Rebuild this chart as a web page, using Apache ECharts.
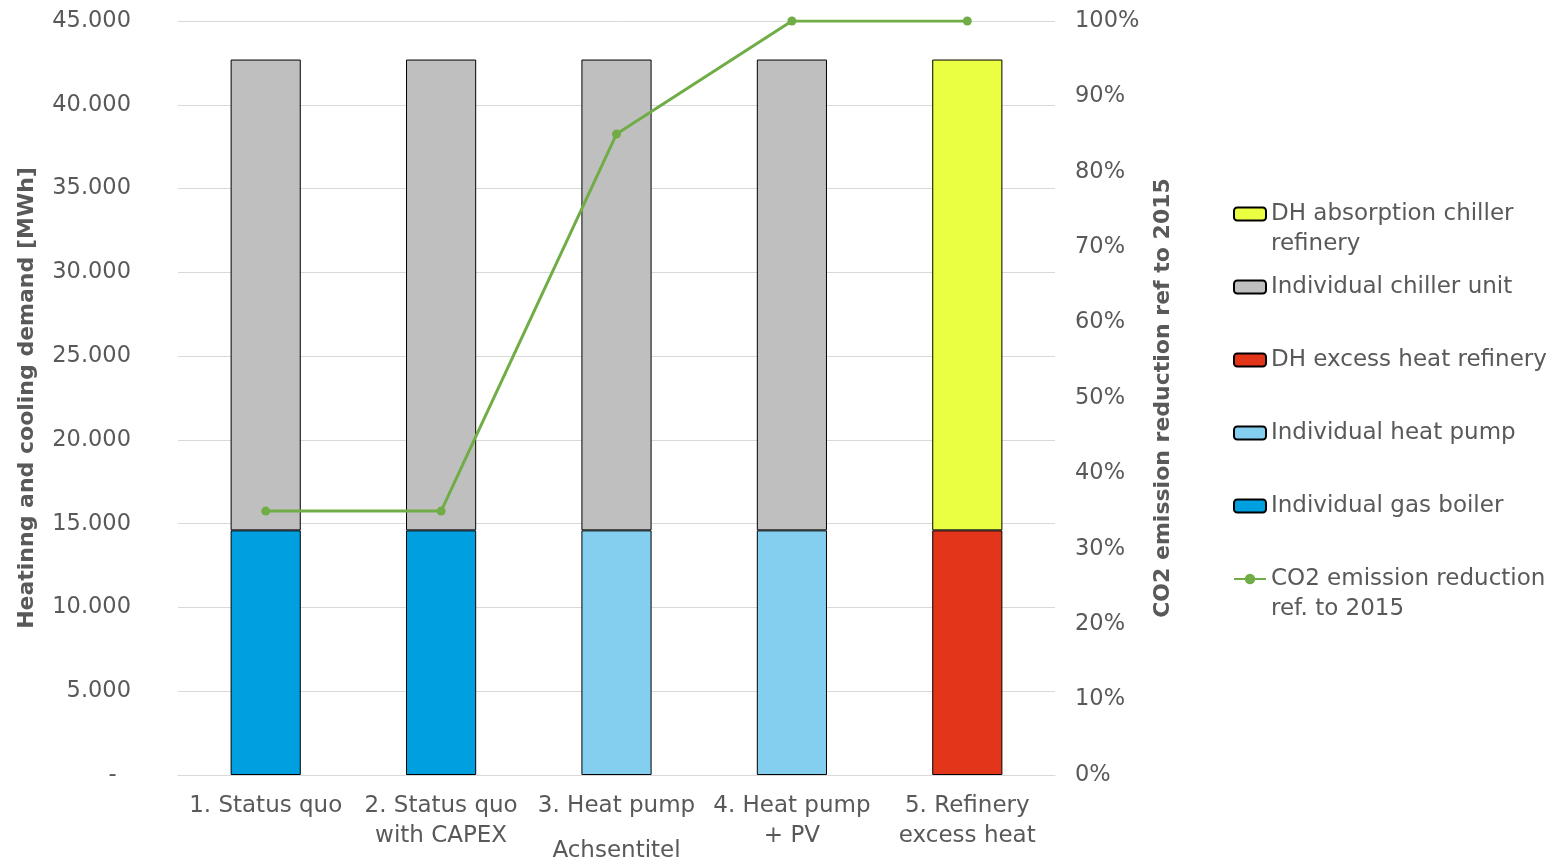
<!DOCTYPE html>
<html>
<head>
<meta charset="utf-8">
<script src="https://cdn.jsdelivr.net/npm/echarts@6/dist/echarts.min.js"></script>
<style>
html,body{margin:0;padding:0;background:#fff;}
#chart{width:1554px;height:865px;}
</style>
</head>
<body>
<div id="chart"></div>
<script>
const categories = ['1. Status quo', '2. Status quo\nwith CAPEX', '3. Heat pump', '4. Heat pump\n+ PV', '5. Refinery\nexcess heat'];
const gasBoiler = [14600, 14600, null, null, null];
const heatPump = [null, null, 14600, 14600, null];
const dhExcessHeat = [null, null, null, null, 14600];
const chillerUnit = [28100, 28100, 28100, 28100, null];
const absorptionChiller = [null, null, null, null, 28100];
const co2Reduction = [0.35, 0.35, 0.85, 1.0, 1.0];

const names = {
  abs: 'DH absorption chiller refinery',
  chil: 'Individual chiller unit',
  dh: 'DH excess heat refinery',
  hp: 'Individual heat pump',
  gas: 'Individual gas boiler',
  co2: 'CO2 emission reduction ref. to 2015'
};
const legendLines = {};
legendLines[names.abs] = ' \nDH absorption chiller\nrefinery';
legendLines[names.co2] = ' \nCO2 emission reduction\nref. to 2015';

const FONT = 'DejaVu Sans';
const TXT = '#595959';

function legendAt(name, centerY) {
  const multi = !!legendLines[name];
  return {
    data: [name],
    orient: 'vertical',
    left: 1233,
    top: multi ? centerY - 45 : centerY - 15,
    padding: 0,
    itemWidth: 32,
    itemHeight: 13,
    itemGap: 0,
    formatter: function (n) { return legendLines[n] || n; },
    textStyle: { color: TXT, fontFamily: FONT, fontSize: 23, lineHeight: 30 }
  };
}

function barSeries(name, data, color) {
  return {
    name: name, type: 'bar', stack: 'total', data: data, barWidth: '40%',
    itemStyle: { color: color, borderColor: '#000', borderWidth: 1 },
    emphasis: { disabled: true }
  };
}

const chart = echarts.init(document.getElementById('chart'), null, { renderer: 'canvas' });
chart.setOption({
  animation: false,
  backgroundColor: '#fff',
  textStyle: { fontFamily: FONT },
  grid: { left: 178, right: 499, top: 21, bottom: 90, containLabel: false, outerBoundsMode: 'none' },
  legend: [
    legendAt(names.abs, 214),
    legendAt(names.chil, 287),
    legendAt(names.dh, 360),
    legendAt(names.hp, 433),
    legendAt(names.gas, 506),
    legendAt(names.co2, 579)
  ],
  xAxis: {
    type: 'category',
    data: categories,
    name: 'Achsentitel',
    nameLocation: 'middle',
    nameGap: 76,
    nameMoveOverlap: false,
    nameTextStyle: { color: TXT, fontFamily: FONT, fontSize: 23, verticalAlign: 'middle' },
    axisLine: { show: true, lineStyle: { color: '#d9d9d9', width: 1 } },
    axisTick: { show: false },
    axisLabel: { color: TXT, fontFamily: FONT, fontSize: 23, lineHeight: 30, margin: 16, interval: 0 }
  },
  yAxis: [
    {
      type: 'value', min: 0, max: 45000, interval: 5000,
      name: 'Heatinng and cooling demand [MWh]',
      nameLocation: 'middle', nameRotate: 90, nameGap: 140,
      nameMoveOverlap: false,
      nameTextStyle: { color: TXT, fontFamily: FONT, fontSize: 22, fontWeight: 'bold' },
      axisLine: { show: false }, axisTick: { show: false },
      splitLine: { lineStyle: { color: '#d9d9d9', width: 1 } },
      axisLabel: {
        color: TXT, fontFamily: FONT, fontSize: 22.5, margin: 47,
        formatter: function (v) {
          if (v === 0) return '-  ';
          return String(v).replace(/\B(?=(\d{3})+(?!\d))/g, '.');
        }
      }
    },
    {
      type: 'value', min: 0, max: 1, interval: 0.1, position: 'right',
      name: 'CO2 emission reduction ref to 2015',
      nameLocation: 'middle', nameRotate: 90, nameGap: 97,
      nameMoveOverlap: false,
      nameTextStyle: { color: TXT, fontFamily: FONT, fontSize: 22, fontWeight: 'bold' },
      axisLine: { show: false }, axisTick: { show: false },
      splitLine: { show: false },
      axisLabel: {
        color: TXT, fontFamily: FONT, fontSize: 22.5, margin: 20,
        formatter: function (v) { return Math.round(v * 100) + '%'; }
      }
    }
  ],
  series: [
    barSeries(names.gas, gasBoiler, '#009fe0'),
    barSeries(names.hp, heatPump, '#84cfef'),
    barSeries(names.dh, dhExcessHeat, '#e3351a'),
    barSeries(names.chil, chillerUnit, '#bfbfbf'),
    barSeries(names.abs, absorptionChiller, '#eaff42'),
    {
      name: names.co2, type: 'line', yAxisIndex: 1, data: co2Reduction,
      symbol: 'circle', symbolSize: 9, z: 5,
      lineStyle: { color: '#70ad47', width: 3 },
      itemStyle: { color: '#70ad47' },
      emphasis: { disabled: true }
    }
  ]
});
</script>
</body>
</html>
